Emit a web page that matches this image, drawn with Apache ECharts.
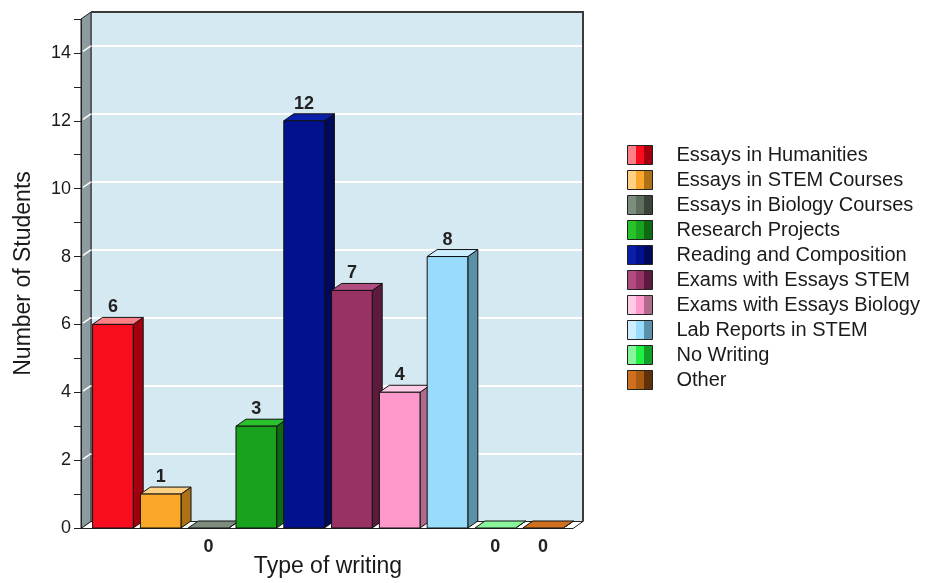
<!DOCTYPE html>
<html>
<head>
<meta charset="utf-8">
<title>Type of writing</title>
<script src="https://cdn.jsdelivr.net/npm/echarts@6/dist/echarts.min.js"></script>
<style>
  html, body { margin: 0; padding: 0; background: #fff; }
  #chart { width: 933px; height: 583px; }
</style>
</head>
<body>
<div id="chart"></div>
<script>
var categories = [
  'Essays in Humanities',
  'Essays in STEM Courses',
  'Essays in Biology Courses',
  'Research Projects',
  'Reading and Composition',
  'Exams with Essays STEM',
  'Exams with Essays Biology',
  'Lab Reports in STEM',
  'No Writing',
  'Other'
];
var values = [6, 1, 0, 3, 12, 7, 4, 8, 0, 0];
var yTicks = [0, 2, 4, 6, 8, 10, 12, 14];
var yMax = 15;

// light (top), mid (front), dark (side) tone per bar
var shades = [
  ['#ff7f86', '#f80d1f', '#a3000f'],
  ['#ffd185', '#fba72a', '#ad7218'],
  ['#7d8d7d', '#606e60', '#3a443a'],
  ['#28c22a', '#18a21e', '#0d6a12'],
  ['#0a1eaa', '#02128f', '#010a5a'],
  ['#b04c80', '#993264', '#5c1a3c'],
  ['#ffcce6', '#ff99cc', '#b06a8c'],
  ['#cdeeff', '#99dbfb', '#5a90a8'],
  ['#88f59a', '#22ee44', '#10a028'],
  ['#cf7020', '#a85a10', '#603008']
];

var DX = 10, DY = -7;   // depth of the 3d effect
var FONT = '"Liberation Sans", Arial, sans-serif';

var chart = echarts.init(document.getElementById('chart'));

function renderFrame(params, api) {
  var cs = params.coordSys;
  var L = cs.x, R = cs.x + cs.width, T = cs.y, B = cs.y + cs.height;
  var children = [
    {
      type: 'polygon',
      shape: { points: [[L, B], [L, T], [L - DX, T - DY], [L - DX, B - DY]] },
      style: { fill: '#8c9ba0', stroke: '#222', lineWidth: 1 }
    },
    {
      type: 'polygon',
      shape: { points: [[L, B], [R, B], [R - DX, B - DY], [L - DX, B - DY]] },
      style: { fill: '#fff', stroke: '#222', lineWidth: 1 }
    },
    {
      type: 'polyline',
      shape: { points: [[L, T], [R, T], [R, B]] },
      style: { fill: null, stroke: '#3a3a3a', lineWidth: 2 }
    }
  ];
  yTicks.forEach(function (t) {
    if (t === 0) return;
    var y = api.coord([0, t])[1];
    children.push({
      type: 'line',
      shape: { x1: L, y1: y, x2: L - DX + 2, y2: y - DY - 1.5 },
      style: { stroke: '#fff', lineWidth: 1.5 }
    });
  });
  return { type: 'group', children: children };
}

function makeBarRenderer(idx) {
  var c = shades[idx];
  return function (params, api) {
    var v = api.value(1);
    var top = api.coord([api.value(0), v]);
    var base = api.coord([api.value(0), 0]);
    var w = api.size([1, 0])[0] * 0.85;
    var x0 = top[0] - w / 2, x1 = top[0] + w / 2;
    var yt = top[1], yb = base[1];
    var line = { stroke: '#111', lineWidth: 1 };
    var children = [
      {
        type: 'polygon',
        shape: { points: [[x1, yt], [x1 + DX, yt + DY], [x1 + DX, yb + DY], [x1, yb]] },
        style: Object.assign({ fill: c[2] }, line)
      },
      {
        type: 'polygon',
        shape: { points: [[x0, yt], [x0 + DX, yt + DY], [x1 + DX, yt + DY], [x1, yt]] },
        style: Object.assign({ fill: c[0] }, line)
      }
    ];
    if (yb - yt > 0.5) {
      children.push({
        type: 'rect',
        shape: { x: x0, y: yt, width: w, height: yb - yt },
        style: Object.assign({ fill: c[1] }, line)
      });
    }
    children.push({
      type: 'text',
      style: {
        text: String(v),
        x: top[0],
        y: v > 0 ? yt + DY - 1 : yb + 10,
        align: 'center',
        verticalAlign: v > 0 ? 'bottom' : 'top',
        font: 'bold 18px ' + FONT,
        fill: '#222'
      }
    });
    return { type: 'group', children: children };
  };
}

var barSeries = categories.map(function (name, i) {
  return {
    name: name,
    type: 'custom',
    xAxisIndex: 1,
    yAxisIndex: 1,
    z: 3,
    itemStyle: { color: shades[i][1] },
    renderItem: makeBarRenderer(i),
    data: [[i, values[i]]]
  };
});

var legendData = categories.map(function (name, i) {
  var c = shades[i];
  return {
    name: name,
    icon: 'rect',
    itemStyle: {
      color: {
        type: 'linear', x: 0, y: 0, x2: 1, y2: 0,
        colorStops: [
          { offset: 0, color: c[0] }, { offset: 0.33, color: c[0] },
          { offset: 0.33, color: c[1] }, { offset: 0.67, color: c[1] },
          { offset: 0.67, color: c[2] }, { offset: 1, color: c[2] }
        ]
      },
      borderColor: '#222',
      borderWidth: 1
    }
  };
});

var option = {
  animation: false,
  backgroundColor: '#fff',
  textStyle: { fontFamily: FONT },
  legend: {
    orient: 'vertical',
    left: 622,
    top: 140,
    itemWidth: 25,
    itemHeight: 19,
    itemGap: 5,
    selectedMode: false,
    textStyle: {
      fontFamily: FONT,
      fontSize: 20,
      lineHeight: 20,
      color: '#1a1a1a',
      padding: [0, 0, 0, 19]
    },
    data: legendData
  },
  grid: [
    // back wall
    {
      left: 91, top: 12, width: 492, height: 509.5,
      show: true,
      backgroundColor: '#d4e9f1',
      borderColor: '#3a3a3a',
      borderWidth: 1
    },
    // front plane holding the bars
    { left: 89, top: 19, width: 478, height: 509.5 }
  ],
  xAxis: [
    { gridIndex: 0, type: 'value', min: 0, max: 1, show: false },
    {
      gridIndex: 1,
      type: 'category',
      data: categories,
      axisLine: { show: false },
      axisTick: { show: false },
      axisLabel: { show: false },
      splitLine: { show: false },
      name: 'Type of writing',
      nameLocation: 'middle',
      nameGap: 27,
      nameTextStyle: { fontFamily: FONT, fontSize: 23, color: '#1a1a1a' }
    }
  ],
  yAxis: [
    {
      gridIndex: 0,
      type: 'value',
      min: 0,
      max: yMax,
      interval: 2,
      axisLine: { show: false },
      axisTick: { show: false },
      axisLabel: { show: false },
      splitLine: { show: true, lineStyle: { color: '#ffffff', width: 2 } }
    },
    {
      gridIndex: 1,
      type: 'value',
      min: 0,
      max: yMax,
      interval: 1,
      offset: 8,
      z: 5,
      axisLine: { show: true, lineStyle: { color: '#222', width: 1 } },
      axisTick: { show: true, length: 7, lineStyle: { color: '#222' } },
      axisLabel: {
        margin: 10,
        fontFamily: FONT,
        fontSize: 18,
        color: '#1a1a1a',
        formatter: function (v) {
          return yTicks.indexOf(v) >= 0 ? String(v) : '';
        }
      },
      splitLine: { show: false },
      name: 'Number of Students',
      nameLocation: 'middle',
      nameGap: 46,
      nameTextStyle: { fontFamily: FONT, fontSize: 23, color: '#1a1a1a' }
    }
  ],
  series: [
    {
      name: 'frame',
      type: 'custom',
      xAxisIndex: 0,
      yAxisIndex: 0,
      z: 1,
      silent: true,
      renderItem: renderFrame,
      data: [[0, 0]]
    }
  ].concat(barSeries)
};

chart.setOption(option);
</script>
</body>
</html>
